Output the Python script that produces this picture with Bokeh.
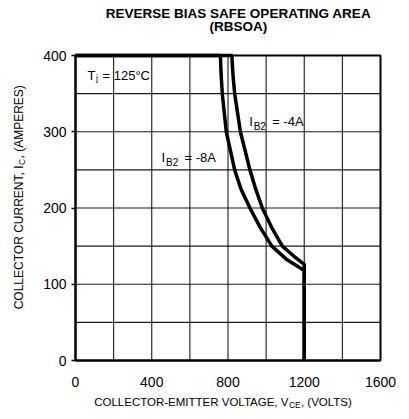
import math
from bokeh.plotting import figure
from bokeh.models import FixedTicker, Label, Range1d
from bokeh.embed import file_html
from bokeh.resources import INLINE

# ---- data ----
vce_ib8 = [0, 760, 764, 770, 791, 835, 868, 915, 968, 1030, 1110, 1200, 1200]
ic_ib8 = [400, 400, 375, 350, 300, 250, 225, 200, 175, 150, 132, 118, 0]
vce_ib4 = [0, 820, 826, 835, 865, 915, 945, 980, 1028, 1085, 1140, 1200, 1200]
ic_ib4 = [400, 400, 375, 350, 300, 250, 225, 200, 175, 150, 138, 126, 0]

x_ticks = [0, 400, 800, 1200, 1600]
y_ticks = [0, 100, 200, 300, 400]
x_grid = [200, 400, 600, 800, 1000, 1200, 1400]
y_grid = [50, 100, 150, 200, 250, 300, 350]
X_MIN, X_MAX = 0, 1600
Y_MIN, Y_MAX = 0, 400

FONT = "Liberation Sans"

# frame covers the whole canvas; data box sits at canvas x 75..380, y 55..360
W, H = 401, 411
L, R, T, B = 75, 21, 55, 51
sx = (W - L - R) / (X_MAX - X_MIN)
sy = (H - T - B) / (Y_MAX - Y_MIN)

p = figure(output_backend="svg", toolbar_location=None,
           frame_width=W, frame_height=H,
           min_border_left=0, min_border_right=0,
           min_border_top=0, min_border_bottom=0,
           x_range=Range1d(X_MIN - L / sx, X_MAX + R / sx),
           y_range=Range1d(Y_MIN - B / sy, Y_MAX + T / sy),
           background_fill_color="white", border_fill_color="white")
p.outline_line_color = None
p.xgrid.visible = False
p.ygrid.visible = False

# grid lines
p.segment(x0=x_grid, y0=[Y_MIN] * len(x_grid), x1=x_grid, y1=[Y_MAX] * len(x_grid),
          line_color="#1a1a1a", line_width=1.1)
p.segment(x0=[X_MIN] * len(y_grid), y0=y_grid, x1=[X_MAX] * len(y_grid), y1=y_grid,
          line_color="#1a1a1a", line_width=1.1)

# plot box
p.quad(left=[X_MIN], right=[X_MAX], bottom=[Y_MIN], top=[Y_MAX],
       fill_color=None, line_color="black", line_width=2)

# axes at fixed locations
p.xaxis.fixed_location = Y_MIN
p.yaxis.fixed_location = X_MIN
p.xaxis.bounds = (X_MIN, X_MAX)
p.yaxis.bounds = (Y_MIN, Y_MAX)
p.xaxis.ticker = FixedTicker(ticks=x_ticks)
p.yaxis.ticker = FixedTicker(ticks=y_ticks)
for ax in (p.xaxis, p.yaxis):
    ax.axis_line_color = "black"
    ax.axis_line_width = 2
    ax.major_label_text_font = FONT
    ax.major_label_text_font_size = "14px"
    ax.major_label_text_color = "black"
    ax.minor_tick_line_color = None
    ax.major_tick_line_color = "black"
    ax.major_tick_in = 0
p.xaxis.major_tick_out = 0
p.xaxis.major_label_standoff = 16
p.yaxis.major_tick_out = 4
p.yaxis.major_tick_line_width = 1.5
p.yaxis.major_label_standoff = 5

# curves
p.line(vce_ib8, ic_ib8, line_color="black", line_width=3.5, line_join="round")
p.line(vce_ib4, ic_ib4, line_color="black", line_width=3.5, line_join="round")


def lab(x, y, text, size, align="left", dx=0, dy=0, bold=False, angle=0.0):
    p.add_layout(Label(x=x, y=y, text=text, x_offset=dx, y_offset=dy,
                       text_font=FONT, text_font_size=size,
                       text_font_style="bold" if bold else "normal",
                       text_color="black", text_align=align,
                       text_baseline="alphabetic", angle=angle))


# title
lab(855, 455, "REVERSE BIAS SAFE OPERATING AREA", "13.5px", "center", bold=True)
lab(855, 438, "(RBSOA)", "13.5px", "center", bold=True)

# Tj annotation
lab(63, 374, "T", "13px")
lab(63, 374, "j", "9px", dx=8.5, dy=-3)
lab(63, 374, "= 125°C", "13px", dx=15)

# IB2 = -4A
lab(911, 312.8, "I", "13px")
lab(911, 312.8, "B2", "10px", dx=4.5, dy=-5)
lab(911, 312.8, "= -4A", "13px", dx=23)

# IB2 = -8A
lab(451, 266, "I", "13px")
lab(451, 266, "B2", "10px", dx=4.5, dy=-5)
lab(451, 266, "= -8A", "13px", dx=23)

# x axis title
lab(1117, -55, "COLLECTOR-EMITTER VOLTAGE, V", "11.5px", "right")
lab(1117, -55, "CE", "8.5px", "left", dx=0.5, dy=-2.5)
lab(1117, -55, ", (VOLTS)", "11.5px", "left", dx=12.5)

# y axis title (rotated)
A = math.pi / 2
lab(-294, 255.7, "COLLECTOR CURRENT, I", "12px", "right", angle=A)
lab(-294, 255.7, "C", "8.5px", "left", dx=3, dy=0.5, angle=A)
lab(-294, 255.7, ", (AMPERES)", "12px", "left", dy=7, angle=A)

open("out.html", "w").write(file_html(p, INLINE))
